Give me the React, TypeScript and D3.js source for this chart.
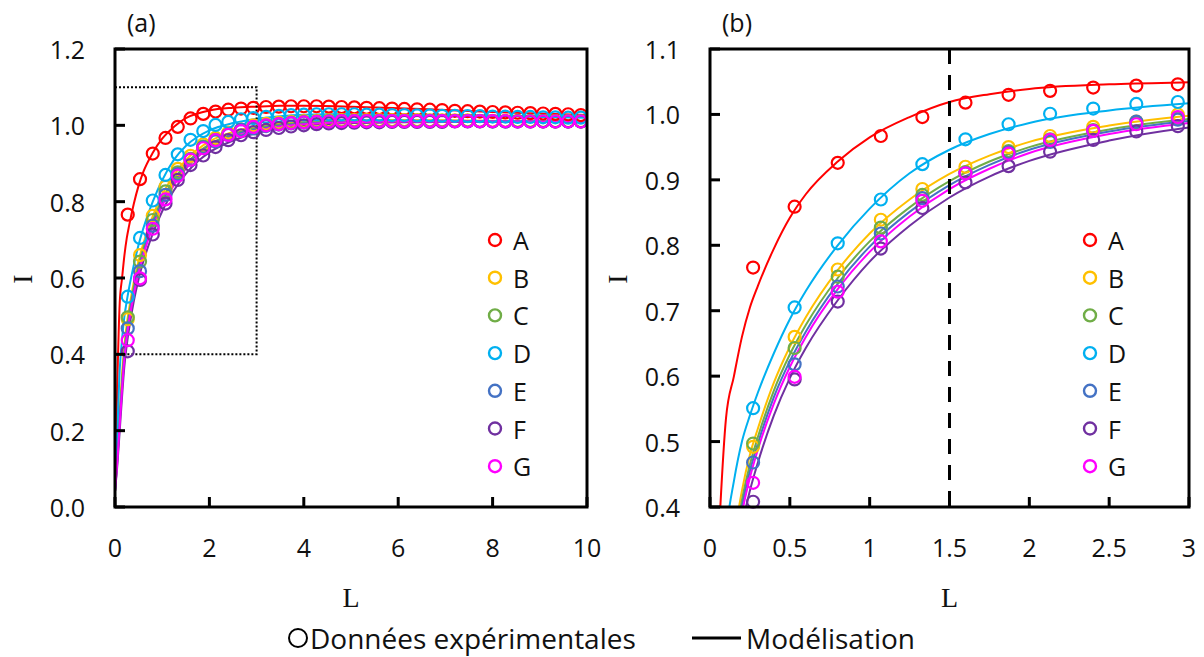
import React from "react";
import * as d3 from "d3";

const seriesNames = ["A", "B", "C", "D", "E", "F", "G"];
const seriesColors = ["#FF0000", "#FFC000", "#70AD47", "#00B0F0", "#4472C4", "#7030A0", "#FF00FF"];

// Experimental points (L values shared by all series)
const pointL = [0.27, 0.53, 0.80, 1.07, 1.33, 1.60, 1.87, 2.13, 2.40, 2.67, 2.93, 3.20, 3.47, 3.73, 4.00, 4.27, 4.53, 4.80, 5.07, 5.33, 5.60, 5.87, 6.13, 6.40, 6.67, 6.93, 7.20, 7.47, 7.73, 8.00, 8.27, 8.53, 8.80, 9.07, 9.33, 9.60, 9.87];

const pointsA = [0.766, 0.859, 0.926, 0.967, 0.996, 1.018, 1.030, 1.036, 1.041, 1.044, 1.046, 1.048, 1.049, 1.050, 1.050, 1.050, 1.049, 1.048, 1.047, 1.046, 1.045, 1.044, 1.043, 1.042, 1.041, 1.040, 1.038, 1.037, 1.036, 1.035, 1.034, 1.033, 1.032, 1.031, 1.030, 1.029, 1.027];
const pointsB = [0.492, 0.660, 0.763, 0.839, 0.886, 0.920, 0.950, 0.967, 0.981, 0.989, 1.000, 1.004, 1.007, 1.009, 1.011, 1.012, 1.013, 1.014, 1.014, 1.014, 1.014, 1.014, 1.014, 1.014, 1.013, 1.013, 1.013, 1.013, 1.012, 1.012, 1.012, 1.012, 1.012, 1.011, 1.011, 1.011, 1.011];
const pointsC = [0.497, 0.643, 0.752, 0.827, 0.877, 0.912, 0.944, 0.962, 0.976, 0.987, 0.995, 1.000, 1.004, 1.007, 1.009, 1.010, 1.011, 1.012, 1.012, 1.012, 1.012, 1.012, 1.012, 1.012, 1.012, 1.012, 1.012, 1.012, 1.011, 1.011, 1.011, 1.011, 1.011, 1.011, 1.010, 1.010, 1.010];
const pointsD = [0.551, 0.705, 0.803, 0.870, 0.924, 0.962, 0.985, 1.001, 1.009, 1.016, 1.019, 1.022, 1.025, 1.027, 1.028, 1.029, 1.029, 1.029, 1.029, 1.028, 1.028, 1.027, 1.027, 1.026, 1.026, 1.025, 1.025, 1.024, 1.024, 1.023, 1.023, 1.022, 1.022, 1.021, 1.021, 1.020, 1.020];
const pointsE = [0.468, 0.618, 0.737, 0.818, 0.872, 0.910, 0.942, 0.958, 0.975, 0.989, 0.992, 0.998, 1.002, 1.005, 1.007, 1.009, 1.010, 1.011, 1.011, 1.011, 1.011, 1.011, 1.011, 1.011, 1.011, 1.011, 1.011, 1.011, 1.011, 1.010, 1.010, 1.010, 1.010, 1.010, 1.010, 1.010, 1.010];
const pointsF = [0.408, 0.595, 0.714, 0.795, 0.857, 0.896, 0.921, 0.943, 0.961, 0.974, 0.982, 0.988, 0.993, 0.997, 1.000, 1.003, 1.005, 1.006, 1.007, 1.008, 1.008, 1.009, 1.009, 1.009, 1.009, 1.009, 1.010, 1.010, 1.010, 1.010, 1.010, 1.010, 1.010, 1.010, 1.010, 1.010, 1.010];
const pointsG = [0.437, 0.599, 0.729, 0.806, 0.868, 0.910, 0.940, 0.961, 0.975, 0.985, 0.996, 1.000, 1.003, 1.006, 1.008, 1.009, 1.010, 1.011, 1.011, 1.011, 1.011, 1.011, 1.011, 1.011, 1.011, 1.011, 1.011, 1.011, 1.011, 1.011, 1.011, 1.010, 1.010, 1.010, 1.010, 1.010, 1.010];

// Model curves (L values shared by all series)
const modelL = [0, 0.05, 0.1, 0.15, 0.2, 0.25, 0.3, 0.4, 0.5, 0.6, 0.8, 1.0, 1.25, 1.5, 1.75, 2.0, 2.5, 3.0, 3.5, 4, 5, 6, 7, 8, 9, 10];
const modelA = [0.04, 0.33, 0.535, 0.60, 0.66, 0.705, 0.738, 0.795, 0.842, 0.878, 0.928, 0.965, 0.996, 1.019, 1.031, 1.039, 1.046, 1.049, 1.051, 1.051, 1.049, 1.045, 1.040, 1.035, 1.031, 1.027];
const modelB = [0.04, 0.14, 0.25, 0.35, 0.425, 0.48, 0.52, 0.59, 0.645, 0.69, 0.762, 0.818, 0.870, 0.909, 0.937, 0.958, 0.983, 0.998, 1.006, 1.011, 1.014, 1.014, 1.013, 1.012, 1.012, 1.011];
const modelC = [0.04, 0.13, 0.235, 0.33, 0.41, 0.465, 0.507, 0.578, 0.633, 0.678, 0.750, 0.806, 0.858, 0.898, 0.928, 0.950, 0.977, 0.993, 1.002, 1.007, 1.011, 1.012, 1.012, 1.011, 1.011, 1.010];
const modelD = [0.04, 0.2, 0.36, 0.44, 0.50, 0.54, 0.575, 0.635, 0.687, 0.73, 0.800, 0.856, 0.910, 0.946, 0.970, 0.987, 1.006, 1.017, 1.024, 1.028, 1.030, 1.029, 1.027, 1.025, 1.022, 1.020];
const modelE = [0.04, 0.125, 0.225, 0.32, 0.40, 0.455, 0.497, 0.568, 0.623, 0.668, 0.741, 0.798, 0.851, 0.892, 0.923, 0.946, 0.974, 0.990, 0.999, 1.005, 1.009, 1.011, 1.011, 1.011, 1.010, 1.010];
const modelF = [0.04, 0.11, 0.2, 0.29, 0.37, 0.425, 0.468, 0.54, 0.597, 0.643, 0.716, 0.775, 0.830, 0.873, 0.905, 0.929, 0.960, 0.980, 0.992, 0.999, 1.006, 1.008, 1.009, 1.009, 1.009, 1.009];
const modelG = [0.04, 0.12, 0.215, 0.31, 0.39, 0.445, 0.488, 0.558, 0.614, 0.66, 0.733, 0.790, 0.844, 0.886, 0.917, 0.941, 0.970, 0.987, 0.997, 1.003, 1.008, 1.010, 1.010, 1.010, 1.010, 1.010];

const pointSets = [pointsA, pointsB, pointsC, pointsD, pointsE, pointsF, pointsG];
const modelSets = [modelA, modelB, modelC, modelD, modelE, modelF, modelG];

const ticksAX = [0, 2, 4, 6, 8, 10];
const ticksAY = [0, 0.2, 0.4, 0.6, 0.8, 1.0, 1.2];
const ticksBX = [0, 0.5, 1, 1.5, 2, 2.5, 3];
const ticksBY = [0.4, 0.5, 0.6, 0.7, 0.8, 0.9, 1.0, 1.1];

const zoomBox = { x0: 0, x1: 3, y0: 0.4, y1: 1.1 };
const dashedL = 1.5;

const FONT = "'Open Sans', 'Liberation Sans', sans-serif";
const SERIF = "'Liberation Serif', 'DejaVu Serif', serif";

type PanelProps = {
  id: string;
  label: string;
  left: number;
  right: number;
  xDomain: [number, number];
  yDomain: [number, number];
  xTicks: number[];
  yTicks: number[];
  xFmt: (v: number) => string;
  legendX: number;
  showZoomBox?: boolean;
  showDashed?: boolean;
};

const TOP = 49;
const BOTTOM = 507;

function Panel(p: PanelProps) {
  const x = d3.scaleLinear().domain(p.xDomain).range([p.left, p.right]);
  const y = d3.scaleLinear().domain(p.yDomain).range([BOTTOM, TOP]);
  const line = d3
    .line<[number, number]>()
    .x((d) => x(d[0]))
    .y((d) => y(d[1]))
    .curve(d3.curveMonotoneX);
  const yFmt = d3.format(".1f");
  const clipId = `clip-${p.id}`;
  const pts = (vals: number[]) =>
    pointL
      .map((l, i) => [l, vals[i]] as [number, number])
      .filter((d) => d[0] <= p.xDomain[1] && d[1] >= p.yDomain[0] - 0.01 && d[1] <= p.yDomain[1]);
  const yTitleX = p.left - 93;

  return (
    <g>
      <defs>
        <clipPath id={clipId}>
          <rect x={p.left} y={TOP} width={p.right - p.left} height={BOTTOM - TOP} />
        </clipPath>
      </defs>
      {/* panel label */}
      <text x={p.left + 12} y={22} fontFamily={FONT} fontSize={25} dominantBaseline="central" fill="#111">
        {p.label}
      </text>
      {/* curves */}
      <g clipPath={`url(#${clipId})`}>
        {modelSets.map((m, si) => (
          <path
            key={"m" + si}
            d={line(modelL.map((l, i) => [l, m[i]] as [number, number])) || ""}
            fill="none"
            stroke={seriesColors[si]}
            strokeWidth={2}
          />
        ))}
      </g>
      {p.showZoomBox && (
        <rect
          x={x(zoomBox.x0)}
          y={y(zoomBox.y1)}
          width={x(zoomBox.x1) - x(zoomBox.x0)}
          height={y(zoomBox.y0) - y(zoomBox.y1)}
          fill="none"
          stroke="#000"
          strokeWidth={2}
          strokeDasharray="2,2"
        />
      )}
      {p.showDashed && (
        <line
          x1={x(dashedL)}
          x2={x(dashedL)}
          y1={TOP}
          y2={BOTTOM}
          stroke="#000"
          strokeWidth={3}
          strokeDasharray="15,11"
        />
      )}
      {/* points */}
      {pointSets.map((vals, si) => (
        <g key={"p" + si}>
          {pts(vals).map((d, i) => (
            <circle key={i} cx={x(d[0])} cy={y(d[1])} r={6} fill="none" stroke={seriesColors[si]} strokeWidth={2.2} />
          ))}
        </g>
      ))}
      {/* frame */}
      <rect x={p.left} y={TOP} width={p.right - p.left} height={BOTTOM - TOP} fill="none" stroke="#000" strokeWidth={3} />
      {/* ticks */}
      {p.xTicks.map((t) => (
        <g key={"xt" + t}>
          <line x1={x(t)} x2={x(t)} y1={BOTTOM} y2={BOTTOM - 10} stroke="#000" strokeWidth={3} />
          <text x={x(t)} y={547} textAnchor="middle" dominantBaseline="central" fontFamily={FONT} fontSize={25} fill="#111">
            {p.xFmt(t)}
          </text>
        </g>
      ))}
      {p.yTicks.map((t) => (
        <g key={"yt" + t}>
          <line x1={p.left} x2={p.left + 10} y1={y(t)} y2={y(t)} stroke="#000" strokeWidth={3} />
          <text x={p.left - 30} y={y(t)} textAnchor="end" dominantBaseline="central" fontFamily={FONT} fontSize={25} fill="#111">
            {yFmt(t)}
          </text>
        </g>
      ))}
      {/* axis titles */}
      <text
        x={yTitleX}
        y={279}
        transform={`rotate(-90, ${yTitleX}, 279)`}
        textAnchor="middle"
        dominantBaseline="central"
        fontFamily={SERIF}
        fontSize={28}
        fill="#111"
      >
        I
      </text>
      <text x={(p.left + p.right) / 2} y={597} textAnchor="middle" dominantBaseline="central" fontFamily={SERIF} fontSize={28} fill="#111">
        L
      </text>
      {/* legend */}
      {seriesNames.map((n, i) => (
        <g key={"lg" + n}>
          <circle cx={p.legendX} cy={240 + i * 37.7} r={6} fill="none" stroke={seriesColors[i]} strokeWidth={2.4} />
          <text x={p.legendX + 18} y={240 + i * 37.7} dominantBaseline="central" fontFamily={FONT} fontSize={25} fill="#111">
            {n}
          </text>
        </g>
      ))}
    </g>
  );
}

export default function App() {
  return (
    <svg
      width={1204}
      height={657}
      style={{ position: "fixed", left: 0, top: 0, background: "#fff" }}
    >
      <rect x={0} y={0} width={1204} height={657} fill="#fff" />
      <Panel
        id="a"
        label="(a)"
        left={115}
        right={587}
        xDomain={[0, 10]}
        yDomain={[0, 1.2]}
        xTicks={ticksAX}
        yTicks={ticksAY}
        xFmt={(v) => String(v)}
        legendX={495}
        showZoomBox
      />
      <Panel
        id="b"
        label="(b)"
        left={710}
        right={1189}
        xDomain={[0, 3]}
        yDomain={[0.4, 1.1]}
        xTicks={ticksBX}
        yTicks={ticksBY}
        xFmt={(v) => String(v)}
        legendX={1090}
        showDashed
      />
      {/* bottom legend */}
      <circle cx={298} cy={638} r={9} fill="none" stroke="#000" strokeWidth={2} />
      <text x={310} y={638} dominantBaseline="central" fontFamily={FONT} fontSize={28} fill="#111">
        Données expérimentales
      </text>
      <line x1={692} x2={741} y1={638} y2={638} stroke="#000" strokeWidth={3} />
      <text x={746} y={638} dominantBaseline="central" fontFamily={FONT} fontSize={28} fill="#111">
        Modélisation
      </text>
    </svg>
  );
}
